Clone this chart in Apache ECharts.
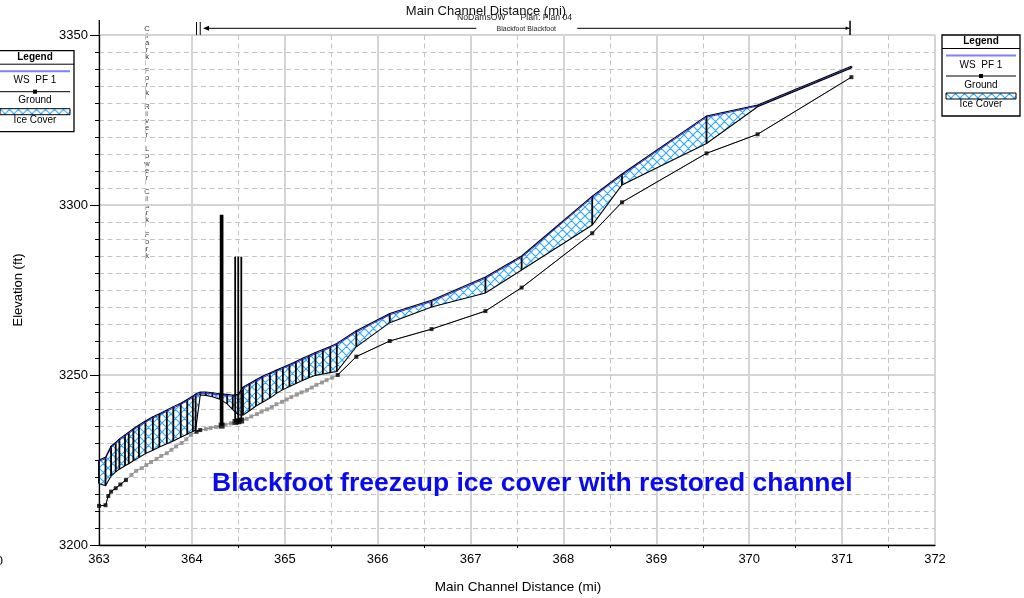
<!DOCTYPE html>
<html>
<head>
<meta charset="utf-8">
<script src="https://cdn.jsdelivr.net/npm/echarts@6/dist/echarts.min.js"></script>
<style>
  html, body { margin: 0; padding: 0; background: #fff; }
  #chart { width: 1024px; height: 598px; }
</style>
</head>
<body>
<div id="chart"></div>
<script>
// ---- Profile data (river miles / elevation in ft) ----
const xTicks = [363, 364, 365, 366, 367, 368, 369, 370, 371, 372];
const yTicks = [3200, 3250, 3300, 3350];

// Ice cover stations: top of ice, water surface, bottom of ice
const iceMiles = [363.00, 363.07, 363.13, 363.18, 363.22, 363.28, 363.32, 363.37, 363.43, 363.50,
  363.58, 363.65, 363.73, 363.80, 363.88, 363.95, 364.01, 364.04, 364.09, 364.15,
  364.22, 364.30, 364.38, 364.44, 364.50, 364.55, 364.62, 364.69, 364.76, 364.84,
  364.91, 364.98, 365.05, 365.12, 365.19, 365.26, 365.33, 365.41, 365.49, 365.56,
  365.77, 366.13, 366.58, 367.16, 367.55, 368.31, 368.63, 369.54, 370.09, 371.10];
const iceTop = [3225.0, 3225.8, 3229.1, 3230.2, 3231.2, 3232.4, 3233.2, 3234.2, 3235.3, 3236.5,
  3237.7, 3238.6, 3239.7, 3240.7, 3241.7, 3242.8, 3243.8, 3244.4, 3245.0, 3245.0,
  3244.8, 3244.5, 3244.3, 3244.1, 3244.3, 3246.4, 3247.5, 3248.6, 3249.6, 3250.6,
  3251.5, 3252.3, 3253.1, 3254.0, 3254.9, 3255.7, 3256.6, 3257.5, 3258.4, 3259.3,
  3263.0, 3268.1, 3272.0, 3278.8, 3285.0, 3302.6, 3309.1, 3326.2, 3329.4, 3340.8];
const wsElev = [3224.6, 3225.4, 3228.7, 3229.8, 3230.8, 3232.0, 3232.8, 3233.8, 3234.9, 3236.1,
  3237.3, 3238.2, 3239.3, 3240.3, 3241.3, 3242.4, 3243.4, 3244.0, 3244.6, 3244.6,
  3244.4, 3244.1, 3243.9, 3243.7, 3243.9, 3246.0, 3247.1, 3248.2, 3249.2, 3250.2,
  3251.1, 3251.9, 3252.7, 3253.6, 3254.5, 3255.3, 3256.2, 3257.1, 3258.0, 3258.9,
  3262.6, 3267.7, 3271.6, 3278.4, 3284.6, 3302.2, 3308.7, 3325.8, 3329.1, 3340.5];
const iceBottom = [3218.0, 3217.5, 3220.3, 3221.5, 3222.3, 3223.3, 3223.9, 3224.8, 3225.7, 3226.9,
  3227.9, 3228.8, 3229.8, 3230.6, 3231.7, 3232.6, 3233.4, 3233.8, 3244.1, 3244.0,
  3243.6, 3242.9, 3241.5, 3239.8, 3238.3, 3238.2, 3239.5, 3240.9, 3242.0, 3243.2,
  3244.6, 3245.7, 3246.6, 3247.5, 3248.4, 3249.2, 3249.9, 3250.3, 3250.7, 3251.0,
  3258.3, 3265.4, 3270.0, 3274.1, 3280.9, 3294.1, 3305.9, 3318.1, 3328.9, 3340.3];

// Channel invert; surveyed = 1 for surveyed sections, 0 for interpolated ones
const groundMiles = [363.00, 363.07, 363.10, 363.13, 363.18, 363.23, 363.29,
  363.35, 363.40, 363.46, 363.51, 363.56, 363.62, 363.67, 363.73, 363.78, 363.83, 363.89, 363.94, 363.99,
  364.05, 364.09, 364.15, 364.20, 364.26, 364.32, 364.36, 364.42, 364.47, 364.50, 364.53,
  364.59, 364.64, 364.70, 364.75, 364.81, 364.86, 364.91, 364.97, 365.02, 365.07, 365.13, 365.18,
  365.24, 365.29, 365.34, 365.40, 365.45, 365.51,
  365.57, 365.77, 366.13, 366.58, 367.16, 367.55, 368.31, 368.63, 369.54, 370.09, 371.10];
const groundElev = [3211.5, 3211.7, 3214.4, 3215.7, 3216.7, 3217.8, 3219.1,
  3220.6, 3221.8, 3222.6, 3223.5, 3224.4, 3225.3, 3226.2, 3227.0, 3228.0, 3229.0, 3230.0, 3231.1, 3232.4,
  3233.3, 3233.8, 3234.1, 3234.4, 3234.7, 3235.1, 3235.4, 3235.8, 3236.2, 3236.4, 3236.6,
  3237.1, 3237.8, 3238.5, 3239.2, 3239.9, 3240.6, 3241.4, 3242.1, 3242.8, 3243.5, 3244.2, 3244.9,
  3245.6, 3246.3, 3247.1, 3247.8, 3248.5, 3249.2,
  3250.0, 3255.4, 3260.0, 3263.5, 3268.8, 3275.7, 3291.7, 3300.8, 3315.2, 3320.8, 3337.6];
const groundSurveyed = [1, 1, 1, 1, 1, 1, 1,
  0, 0, 0, 0, 0, 0, 0, 0, 0, 0, 0, 0, 0,
  1, 1, 0, 0, 0, 1, 0, 0, 1, 1, 1,
  0, 0, 0, 0, 0, 0, 0, 0, 0, 0, 0, 0,
  0, 0, 0, 0, 0, 0,
  1, 1, 1, 1, 1, 1, 1, 1, 1, 1, 1];

// Bridge / culvert decks
const deckMiles = [364.32, 364.466, 364.499, 364.532];
const deckLow = [3235.1, 3236.2, 3236.4, 3236.6];
const deckHigh = [3297.1, 3284.8, 3284.8, 3284.8];

// Reach annotation along the top
const junctionMiles = [364.05, 364.09];
const reachStart = 364.12;
const reachEnd = 371.08;

const FONT = '"Liberation Sans", Arial, Helvetica, sans-serif';

function makeHatch() {
  const s = 9;
  const c = document.createElement('canvas');
  c.width = s; c.height = s;
  const g = c.getContext('2d');
  g.fillStyle = '#ffffff';
  g.fillRect(0, 0, s, s);
  g.strokeStyle = '#2ea9ff';
  g.lineWidth = 1.15;
  g.beginPath();
  for (const k of [-s, 0, s]) {
    g.moveTo(k, 0); g.lineTo(k + s, s);
    g.moveTo(k + s, 0); g.lineTo(k, s);
  }
  g.stroke();
  return c;
}
const hatch = makeHatch();
const hatchFill = { image: hatch, repeat: 'repeat' };

const groundPairs = groundMiles.map((m, i) => [m, groundElev[i]]);
const groundBlack = groundMiles.map((m, i) => {
  const on = groundSurveyed[i] && (groundSurveyed[i - 1] || groundSurveyed[i + 1]);
  return on ? [m, groundElev[i]] : [m, '-'];
});
const surveyedPts = groundPairs.filter((p, i) => groundSurveyed[i]);
const interpPts = groundPairs.filter((p, i) => !groundSurveyed[i]);

function legendBox(left, top) {
  const w = 78, cx = w / 2;
  const txt = (t, y, bold) => ({
    type: 'text', x: cx, y: y,
    style: { text: t, font: (bold ? 'bold ' : '') + '10px ' + FONT, fill: '#000',
             textAlign: 'center', textVerticalAlign: 'middle' }
  });
  return {
    type: 'group', x: left, y: top, z: 100,
    children: [
      { type: 'rect', shape: { x: 0, y: 0, width: w, height: 81 },
        style: { fill: '#fff', stroke: '#000', lineWidth: 1.3 } },
      txt('Legend', 6.5, true),
      { type: 'line', shape: { x1: 0, y1: 13.5, x2: w, y2: 13.5 }, style: { stroke: '#000', lineWidth: 1 } },
      { type: 'line', shape: { x1: 4, y1: 20.5, x2: w - 4, y2: 20.5 }, style: { stroke: '#7f7fff', lineWidth: 2 } },
      txt('WS  PF 1', 30),
      { type: 'line', shape: { x1: 4, y1: 41, x2: w - 4, y2: 41 }, style: { stroke: '#000', lineWidth: 1 } },
      { type: 'rect', shape: { x: cx - 2, y: 39, width: 4, height: 4 }, style: { fill: '#000' } },
      txt('Ground', 50),
      { type: 'rect', shape: { x: 4, y: 58, width: w - 8, height: 6 },
        style: { fill: hatchFill, stroke: '#000', lineWidth: 1 } },
      txt('Ice Cover', 69.5)
    ]
  };
}

const chart = echarts.init(document.getElementById('chart'), null, { renderer: 'canvas' });

const option = {
  animation: false,
  backgroundColor: '#fff',
  grid: { left: 99, right: 89, top: 35, bottom: 53, containLabel: false },
  xAxis: {
    type: 'value', min: xTicks[0], max: xTicks[xTicks.length - 1], interval: 1,
    axisLine: { show: true, onZero: false, lineStyle: { color: '#000', width: 1.3 } },
    axisTick: { show: false },
    minorTick: { show: true, splitNumber: 2, length: 3, lineStyle: { color: '#000', width: 1 } },
    axisLabel: { fontSize: 13, color: '#000', margin: 8, fontFamily: FONT, formatter: (v) => String(v) },
    splitLine: { show: true, lineStyle: { color: '#d4d4d4', width: 2 } },
    minorSplitLine: { show: true, lineStyle: { color: '#c4c4c4', width: 1, type: [5, 3.5] } }
  },
  yAxis: {
    type: 'value', min: yTicks[0], max: yTicks[yTicks.length - 1], interval: 50,
    axisLine: { show: true, onZero: false, lineStyle: { color: '#000', width: 1.3 } },
    axisTick: { show: true, length: 9, lineStyle: { color: '#000', width: 1 } },
    minorTick: { show: true, splitNumber: 10, length: 4, lineStyle: { color: '#000', width: 1 } },
    axisLabel: { fontSize: 13, color: '#000', margin: 11, fontFamily: FONT, formatter: (v) => String(v) },
    splitLine: { show: true, lineStyle: { color: '#d4d4d4', width: 2 } },
    minorSplitLine: { show: true, lineStyle: { color: '#c4c4c4', width: 1, type: [5, 3.5] } }
  },
  graphic: [
    // y axis stub above the plot top
    { type: 'line', shape: { x1: 99.3, y1: 20, x2: 99.3, y2: 35 }, style: { stroke: '#000', lineWidth: 1.3 } },
    { type: 'text', x: 486, y: 11,
      style: { text: 'Main Channel Distance (mi)', font: '13px ' + FONT, fill: '#111', textAlign: 'center', textVerticalAlign: 'middle' } },
    { type: 'text', x: 457, y: 17.5,
      style: { text: 'NoDamsOW', font: '8.7px ' + FONT, fill: '#222', textAlign: 'left', textVerticalAlign: 'middle' } },
    { type: 'text', x: 520.5, y: 17.5,
      style: { text: 'Plan: Plan 04', font: '8.7px ' + FONT, fill: '#222', textAlign: 'left', textVerticalAlign: 'middle' } },
    { type: 'text', x: 147, y: 25,
      style: { text: 'Clark Fork River Lower Clark Fork'.split('').join('\n'), font: '7.5px ' + FONT,
               fill: '#333', textAlign: 'center', textVerticalAlign: 'top', lineHeight: 7.1 } },
    { type: 'text', x: 18, y: 290, rotation: Math.PI / 2,
      style: { text: 'Elevation (ft)', font: '13px ' + FONT, fill: '#000', textAlign: 'center', textVerticalAlign: 'middle' } },
    { type: 'text', x: 518, y: 587,
      style: { text: 'Main Channel Distance (mi)', font: '13.5px ' + FONT, fill: '#000', textAlign: 'center', textVerticalAlign: 'middle' } },
    { type: 'text', x: 3, y: 561,
      style: { text: '0', font: '13px ' + FONT, fill: '#000', textAlign: 'right', textVerticalAlign: 'middle' } },
    { type: 'text', x: 212, y: 484, z: 50,
      style: { text: 'Blackfoot freezeup ice cover with restored channel', font: 'bold 26.5px ' + FONT,
               fill: '#0a0aee', textAlign: 'left', textVerticalAlign: 'middle' } },
    legendBox(-4, 50.7),
    legendBox(942, 35)
  ],
  series: [
    {
      // ice cover band
      type: 'custom', name: 'Ice Cover', z: 3,
      data: [[iceMiles[0], iceTop[0]]],
      renderItem(params, api) {
        const top = iceMiles.map((m, i) => api.coord([m, iceTop[i]]));
        const bot = iceMiles.map((m, i) => api.coord([m, iceBottom[i]]));
        const ws = iceMiles.map((m, i) => api.coord([m, wsElev[i]]));
        const children = [{
          type: 'polygon', shape: { points: top.concat(bot.slice().reverse()) },
          style: { fill: hatchFill, stroke: null }
        }];
        iceMiles.forEach((m, i) => {
          children.push({ type: 'line',
            shape: { x1: top[i][0], y1: top[i][1], x2: bot[i][0], y2: bot[i][1] },
            style: { stroke: '#000', lineWidth: 1.8 } });
        });
        children.push({ type: 'polyline', shape: { points: ws }, style: { stroke: '#2b2bff', lineWidth: 1, fill: null } });
        children.push({ type: 'polyline', shape: { points: top }, style: { stroke: '#000', lineWidth: 1.1, fill: null } });
        children.push({ type: 'polyline', shape: { points: bot }, style: { stroke: '#000', lineWidth: 1.1, fill: null } });
        return { type: 'group', children };
      }
    },
    {
      type: 'line', name: 'Ground interpolated', z: 4, data: groundPairs,
      showSymbol: false, lineStyle: { color: '#8a8a8a', width: 1 }, silent: true
    },
    {
      type: 'line', name: 'Ground', z: 5, data: groundBlack, connectNulls: false,
      showSymbol: false, lineStyle: { color: '#000', width: 1 }, silent: true
    },
    {
      type: 'scatter', z: 6, data: interpPts, symbol: 'rect', symbolSize: 4,
      itemStyle: { color: '#8a8a8a' }, silent: true
    },
    {
      type: 'scatter', z: 7, data: surveyedPts, symbol: 'rect',
      symbolSize: (v) => (v[0] >= 364.3 && v[0] <= 364.55) ? 6 : 4,
      itemStyle: { color: '#000' }, silent: true
    },
    {
      // bridge decks
      type: 'custom', z: 8,
      data: deckMiles.map((m, i) => [m, deckLow[i], deckHigh[i]]),
      renderItem(params, api) {
        const a = api.coord([api.value(0), api.value(1)]);
        const b = api.coord([api.value(0), api.value(2)]);
        return { type: 'line', shape: { x1: a[0], y1: a[1], x2: b[0], y2: b[1] },
                 style: { stroke: '#000', lineWidth: params.dataIndex === 0 ? 3.7 : 1.8 } };
      }
    },
    {
      // reach annotation above the plot
      type: 'custom', z: 9, clip: false,
      data: [[reachStart, yTicks[yTicks.length - 1]]],
      renderItem(params, api) {
        const yTop = api.coord([reachStart, yTicks[yTicks.length - 1]])[1];
        const xs = api.coord([reachStart, 0])[0];
        const xe = api.coord([reachEnd, 0])[0];
        const j0 = api.coord([junctionMiles[0], 0])[0];
        const j1 = api.coord([junctionMiles[1], 0])[0];
        const y = yTop - 6.7;
        const xm = (xs + xe) / 2;
        const st = { stroke: '#000', lineWidth: 1 };
        return { type: 'group', children: [
          { type: 'line', shape: { x1: j0, y1: yTop - 13, x2: j0, y2: yTop }, style: st },
          { type: 'line', shape: { x1: j1, y1: yTop - 13, x2: j1, y2: yTop }, style: st },
          { type: 'line', shape: { x1: xs + 3, y1: y, x2: xm - 50, y2: y }, style: st },
          { type: 'line', shape: { x1: xm + 51, y1: y, x2: xe, y2: y }, style: st },
          { type: 'polygon', shape: { points: [[xs, y], [xs + 6, y - 2.5], [xs + 6, y + 2.5]] }, style: { fill: '#000' } },
          { type: 'polygon', shape: { points: [[xe, y], [xe - 4, y - 1.8], [xe - 4, y + 1.8]] }, style: { fill: '#000' } },
          { type: 'line', shape: { x1: xe + 0.5, y1: yTop - 14.3, x2: xe + 0.5, y2: yTop }, style: { stroke: '#000', lineWidth: 1.5 } },
          { type: 'text', x: xm, y: y + 1,
            style: { text: 'Blackfoot Blackfoot', font: '7px ' + FONT, fill: '#222', textAlign: 'center', textVerticalAlign: 'middle' } }
        ] };
      }
    }
  ]
};

chart.setOption(option);
</script>
</body>
</html>
